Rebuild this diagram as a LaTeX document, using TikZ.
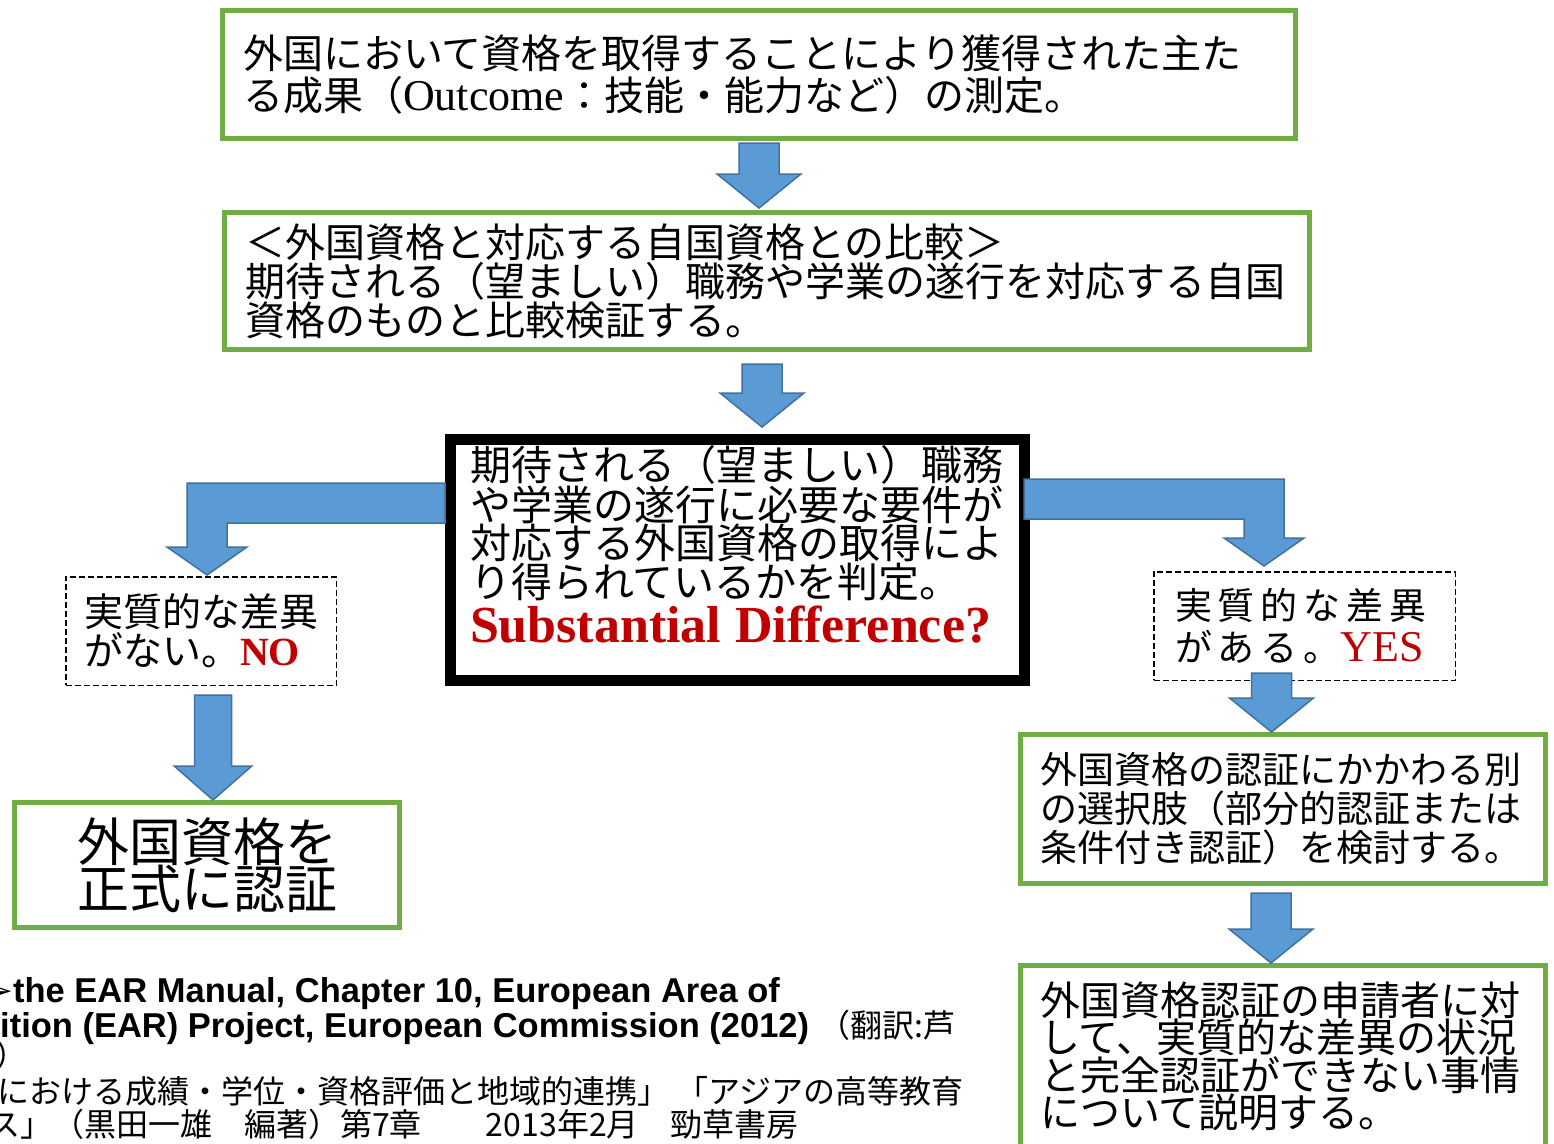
\documentclass[tikz,border=0pt]{standalone}
\usepackage{fontspec}
\setmainfont{Noto Sans CJK JP}
\newfontfamily\jpspaced{Noto Sans CJK JP}[LetterSpace=16]
\newfontfamily\jpgothic{Noto Sans CJK JP}
\newfontfamily\latinserif{Liberation Serif}
\newfontfamily\latinsans{Liberation Sans}
\newfontfamily\dingfont{DejaVu Sans}
\usetikzlibrary{calc}
\lineskiplimit=-100pt
\definecolor{boxgreen}{HTML}{70AD47}
\definecolor{arrowblue}{HTML}{5B9BD5}
\definecolor{arrowedge}{HTML}{41719C}
\definecolor{answerred}{HTML}{C00000}
\newcommand{\answer}[1]{{\latinserif\color{answerred}#1}}
\newcommand{\jpref}{\jpgothic\mdseries\fontsize{32}{34}\selectfont}
\tikzset{%
  every stage/.style={
    rectangle,
    draw=boxgreen,
    line width=5pt,
    fill=white,
    inner sep=0pt,
    align=left
  },
  answer box/.style={
    rectangle,
    draw,
    dash pattern=on 6pt off 3pt,
    line width=1.5pt,
    inner sep=0pt,
    align=left
  },
  judge box/.style={
    rectangle,
    draw,
    line width=11pt,
    fill=white,
    inner sep=0pt,
    align=left
  },
  ref line/.style={
    anchor=base west,
    inner sep=0pt,
    font=\latinsans\bfseries\fontsize{34.5}{34}\selectfont
  },
  block down/.style={
    fill=arrowblue, draw=arrowedge, line width=1.5pt,
    to path={let \p1=(\tikztostart), \p2=(\tikztotarget) in
      ({\x1-#1*1pt},\y1) -- ({\x1+#1*1pt},\y1) -- ({\x1+#1*1pt},\y2+34pt)
      -- ({\x1+2.1*#1*1pt},\y2+34pt) -- (\x1,\y2) -- ({\x1-2.1*#1*1pt},\y2+34pt)
      -- ({\x1-#1*1pt},\y2+34pt) -- cycle}
  },
  block bend/.style={
    fill=arrowblue, draw=arrowedge, line width=1.5pt,
    to path={let \p1=(\tikztostart), \p2=(\tikztotarget) in
      (\x1,\y1+20pt) -- ({\x2+#1*20pt},\y1+20pt) -- ({\x2+#1*20pt},\y2+28pt)
      -- ({\x2+#1*40pt},\y2+28pt) -- (\x2,\y2) -- ({\x2-#1*40pt},\y2+28pt)
      -- ({\x2-#1*20pt},\y2+28pt) -- ({\x2-#1*20pt},\y1-20pt) -- (\x1,\y1-20pt) -- cycle}
  },
}

\begin{document}
\begin{tikzpicture}[x=1pt, y=-1pt]

  \useasboundingbox (0,0) rectangle (1554,1143);
  \clip (0,0) rectangle (1554,1143);
  \fill[white] (0,0) rectangle (1554,1143);

  % Main column
  \node [every stage, minimum width=1073, minimum height=128, text width=1032,
    font=\fontsize{40}{42}\selectfont] (b1) at (759,74.5)
    {外国において資格を取得することにより獲得された主た\\る成果（{\latinserif\fontsize{44}{42}\selectfont Outcome}：技能・能力など）の測定。};

  \node [every stage, minimum width=1085, minimum height=137, text width=1044,
    font=\fontsize{40}{39}\selectfont] (b2) at (767,281)
    {＜外国資格と対応する自国資格との比較＞\\期待される（望ましい）職務や学業の遂行を対応する自国\\資格のものと比較検証する。};

  \node [judge box, minimum width=574, minimum height=241, text width=535,
    font=\fontsize{41}{38.5}\selectfont] (b3) at (737.5,560)
    {期待される（望ましい）職務\\や学業の遂行に必要な要件が\\対応する外国資格の取得によ\\り得られているかを判定。\\[4pt]{\latinserif\bfseries\color{answerred}\fontsize{52}{45}\selectfont Substantial Difference?}\rule[-32pt]{0pt}{32pt}};

  % Left branch
  \node [answer box, minimum width=270.5, minimum height=108.5, text width=234,
    font=\fontsize{39}{39}\selectfont] (nobox) at (201,631)
    {実質的な差異\\がない。\answer{\bfseries\fontsize{40}{40}\selectfont NO}};

  \node [every stage, minimum width=385, minimum height=125, align=center,
    font=\fontsize{52}{47}\selectfont] (okbox) at (207,865)
    {外国資格を\\正式に認証};

  % Right branch
  \node [answer box, minimum width=301.5, minimum height=108.5, text width=259,
    font=\jpspaced\fontsize{37}{42}\selectfont] (yesbox) at (1304.5,626)
    {実質的な差異\\がある。\answer{\fontsize{44}{42}\selectfont YES}};

  \node [every stage, minimum width=525, minimum height=149, text width=486,
    font=\fontsize{37}{39}\selectfont] (r1) at (1283,809)
    {外国資格の認証にかかわる別\\の選択肢（部分的認証または\\条件付き認証）を検討する。};

  \node [every stage, minimum width=525, minimum height=182, text width=486,
    font=\fontsize{40}{37.5}\selectfont] (r2) at (1283,1056.5)
    {外国資格認証の申請者に対\\して、実質的な差異の状況\\と完全認証ができない事情\\について説明する。};

  % Arrow ends
  \coordinate (a1-from) at ([yshift=-2pt]b1.south);
  \coordinate (a1-to) at ([yshift=2pt]b2.north);
  \coordinate (a2-from) at ([xshift=-5pt,yshift=-12pt]b2.south);
  \coordinate (a2-to) at ([yshift=7pt]b3.north);
  \coordinate (a3-from) at ([xshift=12pt,yshift=-9pt]nobox.south);
  \coordinate (a4-from) at ([xshift=-33pt,yshift=8pt]yesbox.south);
  \coordinate (a5-from) at ([xshift=-12pt,yshift=-7pt]r1.south);
  \coordinate (no-from) at ([yshift=57pt]b3.west);
  \coordinate (no-to) at ([xshift=6pt,yshift=1pt]nobox.north);
  \coordinate (yes-from) at ([xshift=-6pt,yshift=61pt]b3.east);
  \coordinate (yes-to) at ([xshift=-40.5pt,yshift=5pt]yesbox.north);

  % Straight arrows
  \foreach \from/\to/\w in {a1-from/a1-to/20, a2-from/a2-to/20, a3-from/okbox.north/18.5,
      a4-from/r1.north/20, a5-from/r2.north/20}
    \draw [block down=\w] (\from) to (\to);

  % Bent arrows out of the question
  \draw [block bend=-1] (no-from) to (no-to);
  \draw [block bend=1] (yes-from) to (yes-to);

  % Reference lines
  \node [ref line] (ref1) at (-16,1002) {{\dingfont ➢}the EAR Manual, Chapter 10, European Area of};
  \node [ref line] (ref2) at (0,1037) {ition (EAR) Project, European Commission (2012) {\jpref （翻訳:芦}};
  \node [ref line] (ref3) at (-5,1067) {\jpref ）};
  \node [ref line] (ref4) at (-3,1103) {\jpref における成績・学位・資格評価と地域的連携」 「アジアの高等教育};
  \node [ref line] (ref5) at (-12,1136) {\jpref ス」（黒田一雄　編著）第7章　　2013年2月　勁草書房};

\end{tikzpicture}
\end{document}
